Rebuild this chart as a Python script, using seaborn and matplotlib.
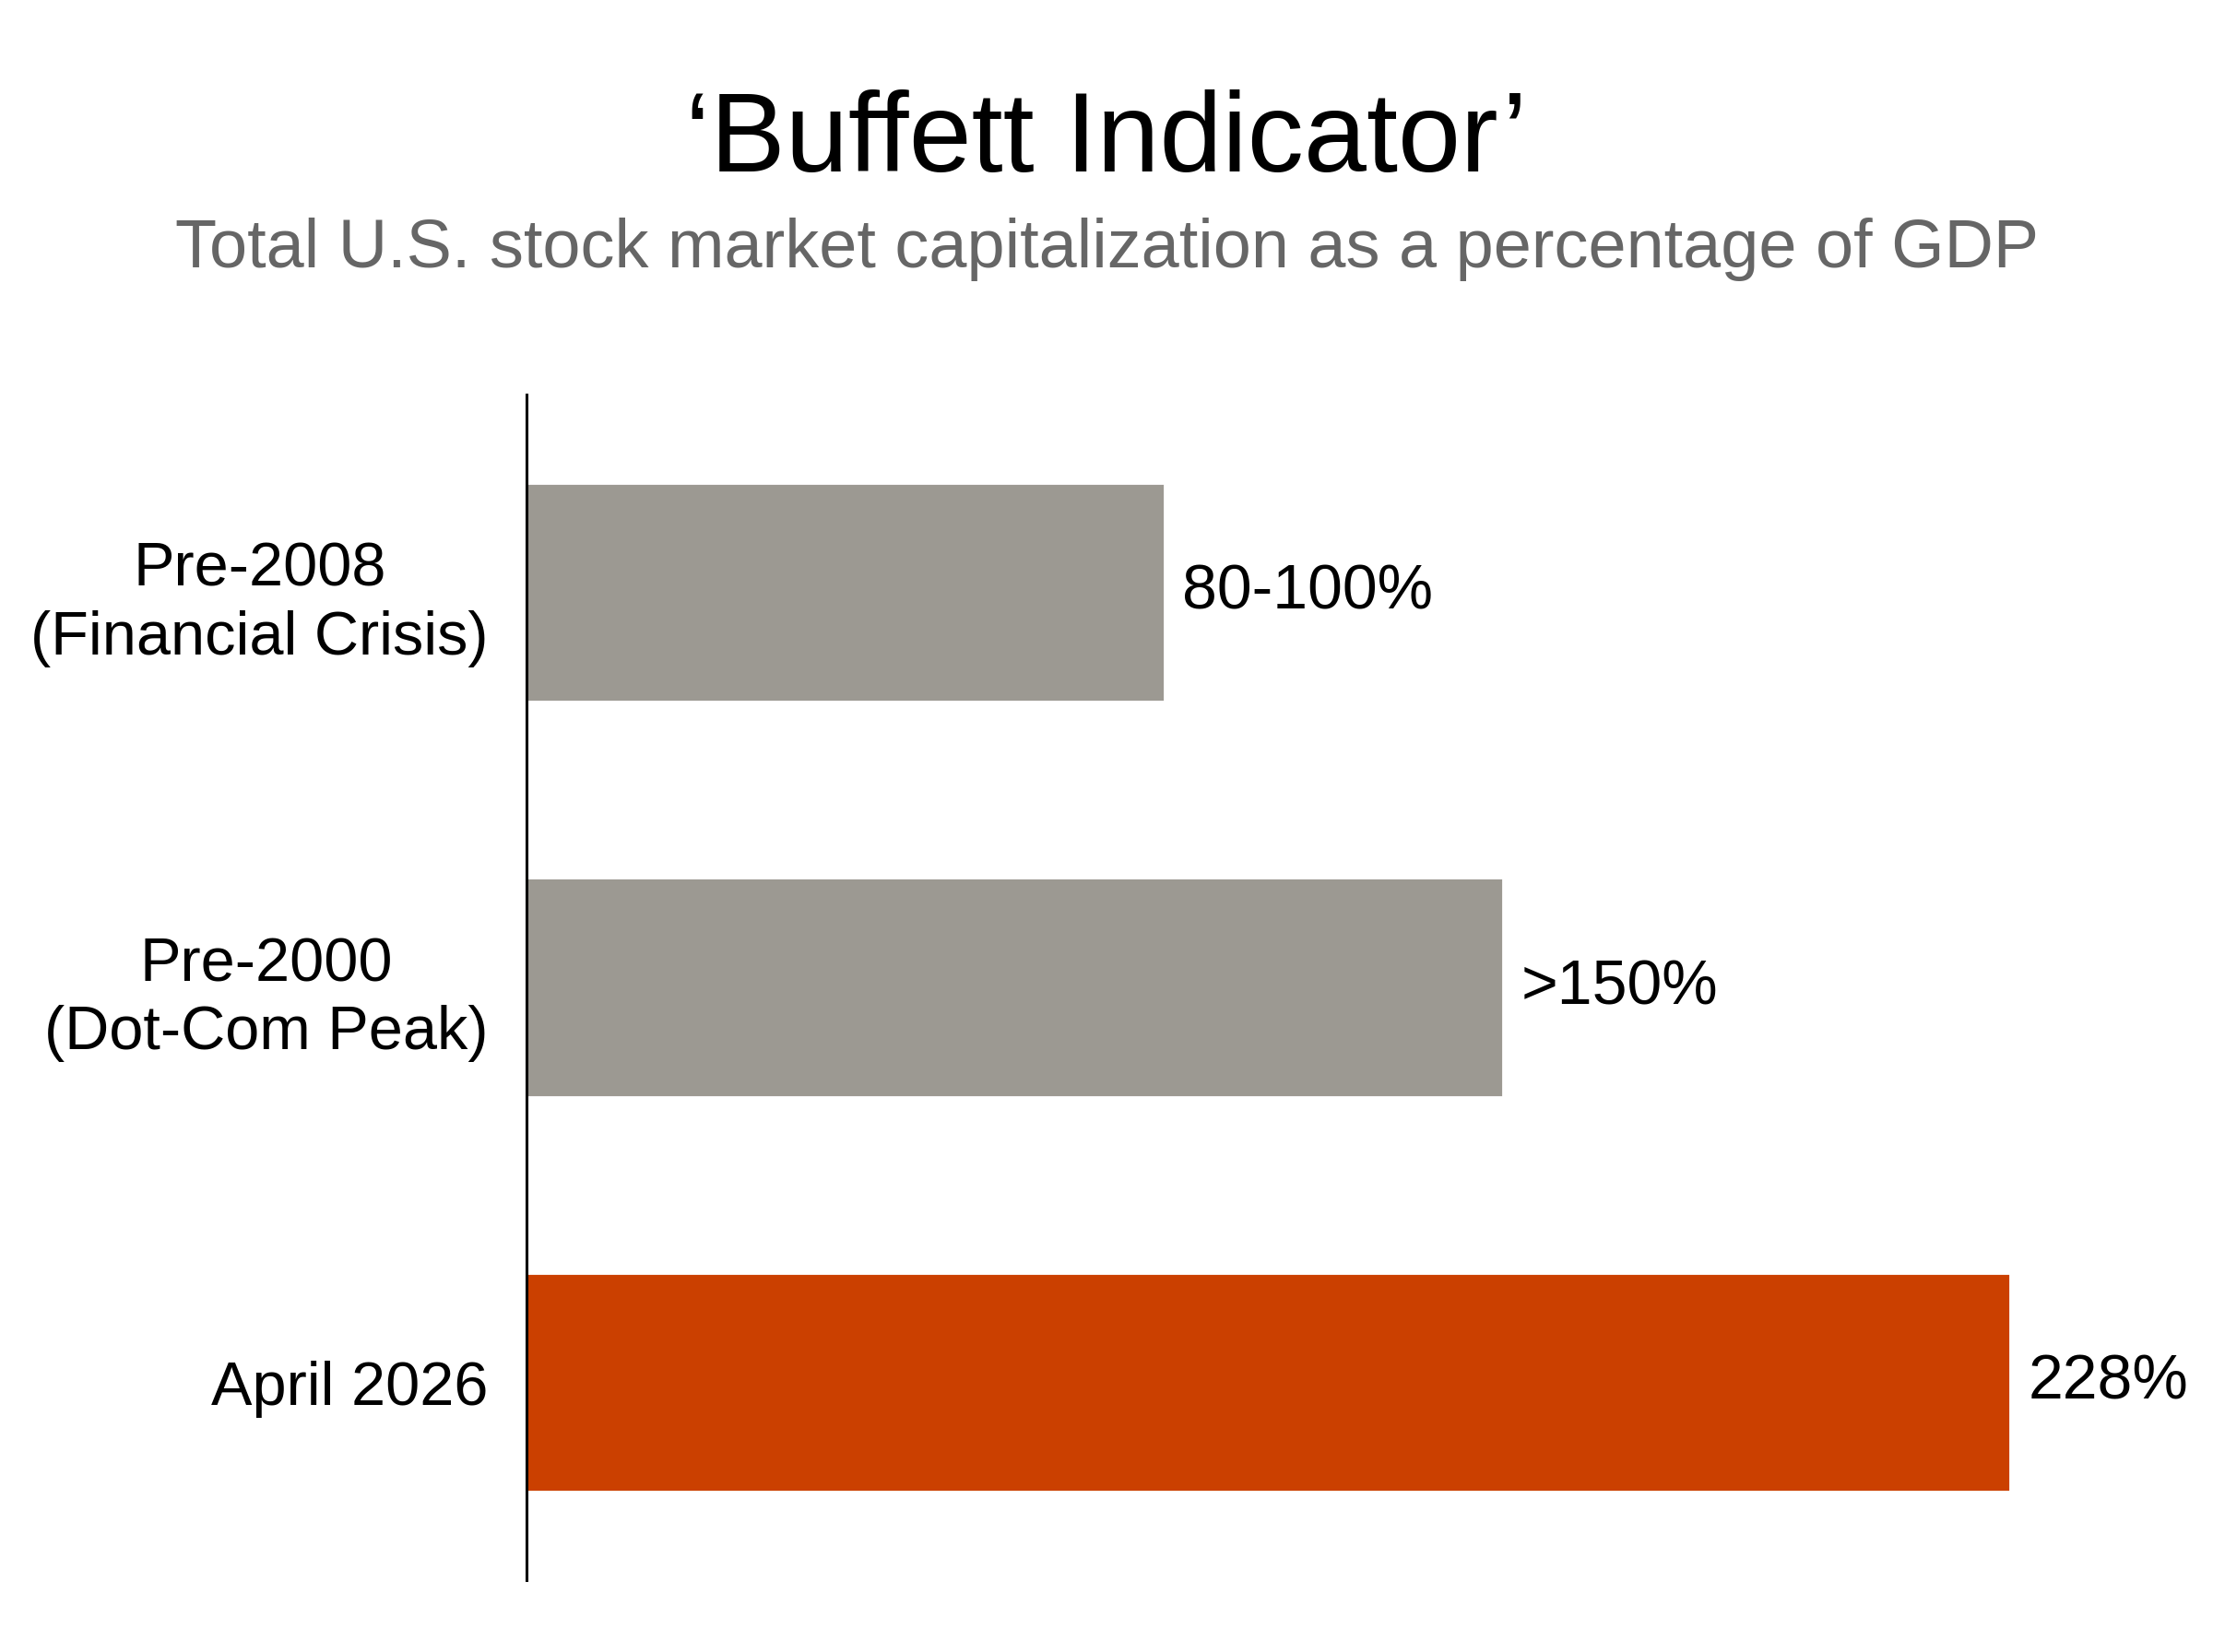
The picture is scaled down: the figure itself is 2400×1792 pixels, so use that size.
import matplotlib
matplotlib.use("Agg")
import matplotlib.pyplot as plt
import pandas as pd
import seaborn as sns

# Chart data.
periods = ["Pre-2008\n(Financial Crisis)", "Pre-2000\n(Dot-Com Peak)", "April 2026"]
ratios = [98, 150, 228]
value_labels = ["80-100%", ">150%", "228%"]
bar_colors = ["#9c9992", "#9c9992", "#cb4000"]

df = pd.DataFrame({"period": periods, "ratio": ratios})

sns.set_theme(style="white")
plt.rcParams["font.family"] = ["Liberation Sans", "DejaVu Sans"]

fig = plt.figure(figsize=(12, 8.96), dpi=200)
fig.patch.set_facecolor("white")
ax = fig.add_axes([0.238, 0.0435, 0.742, 0.7175])

sns.barplot(data=df, y="period", x="ratio", hue="period", palette=bar_colors,
            legend=False, width=0.554, saturation=1, ax=ax, orient="h")

ax.set_xlim(0, 252.3)
ax.set_ylim(2.5, -0.5)
ax.set_xlabel("")
ax.set_ylabel("")
ax.set_xticks([])

for s in ["top", "right", "bottom"]:
    ax.spines[s].set_visible(False)
ax.spines["left"].set_color("black")
ax.spines["left"].set_linewidth(1.1)

ax.tick_params(axis="y", length=0, pad=15, labelsize=24, labelcolor="black")
for lab in ax.get_yticklabels():
    lab.set_multialignment("center")
    lab.set_linespacing(1.25)

for i, (v, txt) in enumerate(zip(ratios, value_labels)):
    ax.annotate(txt, xy=(v, i), xytext=(7, 0), textcoords="offset points",
                ha="left", va="center", fontsize=24.5, color="black")

fig.text(0.5, 0.896, "\u2018Buffett Indicator\u2019", ha="center", va="baseline",
         fontsize=44, color="black")
fig.text(0.5, 0.838, "Total U.S. stock market capitalization as a percentage of GDP",
         ha="center", va="baseline", fontsize=26.6, color="#666666")

fig.savefig("out.png", dpi=200, facecolor="white")
